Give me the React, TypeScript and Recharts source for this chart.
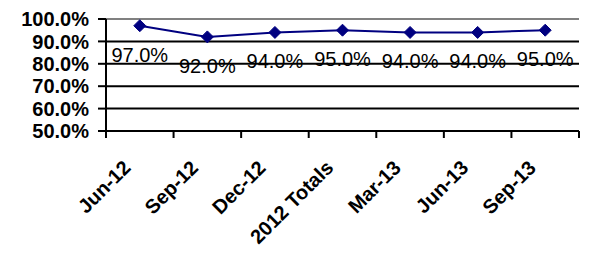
import {
  LineChart,
  Line,
  XAxis,
  YAxis,
  CartesianGrid,
  ReferenceLine,
  LabelList,
} from "recharts";

const categories = ["Jun-12", "Sep-12", "Dec-12", "2012 Totals", "Mar-13", "Jun-13", "Sep-13"];
const rates = [0.97, 0.92, 0.94, 0.95, 0.94, 0.94, 0.95];
const yTicks = [0.5, 0.6, 0.7, 0.8, 0.9, 1.0];

// category i sits in the band [i, i+1]; ticks at band edges and band centres
const data = categories.map((name, i) => ({ name, pos: i + 0.5, rate: rates[i] }));
const xTicks = [0, ...categories.flatMap((_, i) => [i + 0.5, i + 1])];

const FONT = '"Liberation Sans", Arial, sans-serif';
const NAVY = "#000080";

const pct = (v: number) => `${(v * 100).toFixed(1)}%`;

function Diamond(props: any) {
  const { cx, cy } = props;
  if (cx == null || cy == null) return null;
  const r = 6;
  return (
    <polygon
      points={`${cx},${cy - r} ${cx + r},${cy} ${cx},${cy + r} ${cx - r},${cy}`}
      fill={NAVY}
      stroke={NAVY}
    />
  );
}

function XTick(props: any) {
  const { x, y, payload } = props;
  const v = payload.value as number;
  if (Number.isInteger(v)) {
    return <line x1={x} y1={y} x2={x} y2={y + 7} stroke="#000" strokeWidth={2} />;
  }
  const ax = x - 8;
  const ay = y + 38;
  return (
    <text
      x={ax}
      y={ay}
      transform={`rotate(-45 ${ax} ${ay})`}
      textAnchor="end"
      fontFamily={FONT}
      fontWeight="bold"
      fontSize={20}
      fill="#000"
    >
      {categories[Math.floor(v)]}
    </text>
  );
}

function RateLabel(props: any) {
  const { x, y, value } = props;
  return (
    <text
      x={x}
      y={y + 29}
      dy="0.35em"
      textAnchor="middle"
      fontFamily={FONT}
      fontSize={20}
      fill="#000"
    >
      {pct(value)}
    </text>
  );
}

export default function App() {
  return (
    <div style={{ position: "absolute", left: 0, top: 0, background: "#fff" }}>
      <LineChart
        width={592}
        height={253}
        data={data}
        margin={{ top: 19, right: 13, bottom: 0, left: 0 }}
      >
        <CartesianGrid
          xAxisId="x"
          yAxisId="left"
          vertical={false}
          stroke="#000"
          strokeWidth={2}
        />
        <XAxis
          xAxisId="x"
          dataKey="pos"
          type="number"
          domain={[0, 7]}
          ticks={xTicks}
          interval={0}
          height={122}
          tickSize={0}
          tickMargin={0}
          tickLine={false}
          axisLine={{ stroke: "#000", strokeWidth: 2 }}
          tick={<XTick />}
        />
        <YAxis
          yAxisId="left"
          domain={[0.5, 1]}
          ticks={yTicks}
          interval={0}
          width={106}
          tickFormatter={pct}
          tickSize={8}
          tickMargin={9}
          axisLine={{ stroke: "#000", strokeWidth: 2 }}
          tickLine={{ stroke: "#000", strokeWidth: 2 }}
          tick={{ fill: "#000", fontFamily: FONT, fontWeight: "bold", fontSize: 20 }}
        />
        <YAxis
          yAxisId="right"
          orientation="right"
          domain={[0.5, 1]}
          width={0}
          tick={false}
          tickLine={false}
          axisLine={{ stroke: "#808080", strokeWidth: 2 }}
        />
        <ReferenceLine yAxisId="left" xAxisId="x" y={1} stroke="#808080" strokeWidth={2} />
        <Line
          xAxisId="x"
          yAxisId="left"
          dataKey="rate"
          stroke={NAVY}
          strokeWidth={2}
          dot={<Diamond />}
          isAnimationActive={false}
        >
          <LabelList dataKey="rate" content={<RateLabel />} />
        </Line>
      </LineChart>
    </div>
  );
}
